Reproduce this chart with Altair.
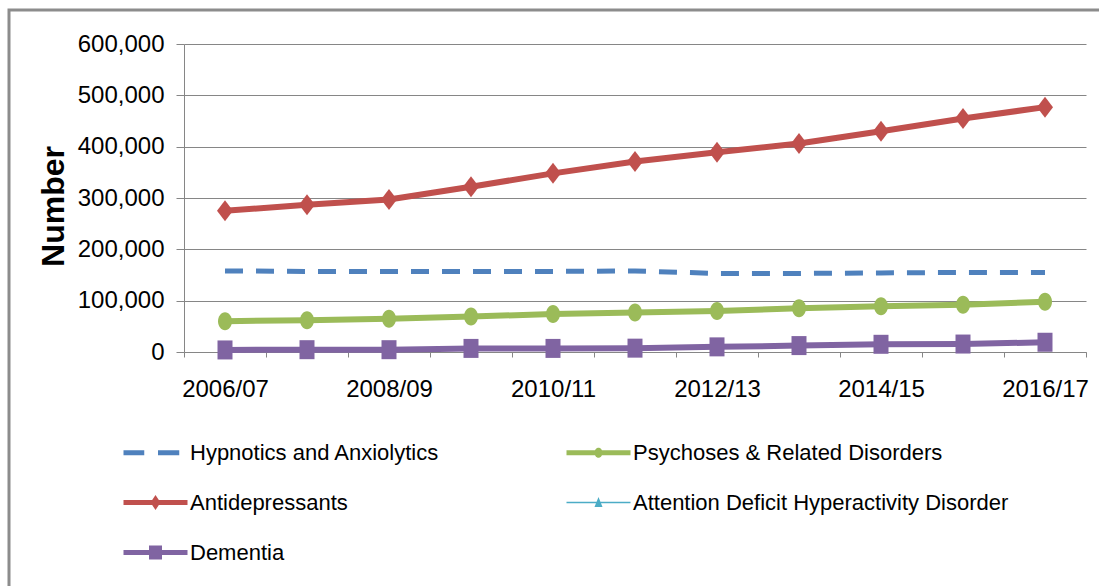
import altair as alt
import pandas as pd

# Financial years on the category axis
years = ["2006/07", "2007/08", "2008/09", "2009/10", "2010/11", "2011/12",
         "2012/13", "2013/14", "2014/15", "2015/16", "2016/17"]

# Number of patients per drug group
hypnotics = [158000, 157000, 157000, 157000, 157000, 158000,
             153000, 153000, 154000, 155000, 155000]
psychoses = [60000, 62000, 65000, 69000, 74000, 77000,
             80000, 85000, 89000, 92000, 98000]
antidepressants = [275000, 287000, 297000, 322000, 348000, 371000,
                   389000, 406000, 430000, 455000, 477000]
adhd = [5500, 6000, 6500, 7500, 8000, 8500,
        10500, 12000, 14000, 15000, 17500]
dementia = [4000, 4500, 4500, 7000, 7000, 7500,
            10000, 12500, 15000, 15500, 19000]

series_names = ["Hypnotics and Anxiolytics", "Psychoses & Related Disorders",
                "Antidepressants", "Attention Deficit Hyperactivity Disorder",
                "Dementia"]
series_values = [hypnotics, psychoses, antidepressants, adhd, dementia]
marker_kinds = ["none", "ellipse", "diamond", "triangle", "square"]

y_ticks = [0, 100000, 200000, 300000, 400000, 500000, 600000]

rows = []
for name, kind, vals in zip(series_names, marker_kinds, series_values):
    for yr, v in zip(years, vals):
        rows.append({"year": yr, "series": name, "marker": kind, "value": v})
df = pd.DataFrame(rows)

# Styling per series
colors = ["#4F81BD", "#9BBB59", "#C0504D", "#4BACC6", "#8064A2"]
line_widths = [5, 6, 6, 1.5, 6]
# Marker outlines (size 100 -> 1 unit = 5 px); the dashed series has none
marker_paths = [
    "M0,0",
    "M-1.4,0A1.4,1.8,0,1,1,1.4,0A1.4,1.8,0,1,1,-1.4,0Z",
    "M0,-2.1L1.6,0L0,2.1L-1.6,0Z",
    "M0,-0.8L0.7,0.6L-0.7,0.6Z",
    "M-1.5,-1.9L1.5,-1.9L1.5,1.9L-1.5,1.9Z",
]

# Legend glyphs: line segment plus marker (symbol size 625 -> 1 unit = 12.5 px)
bar = "M-2.56,-0.2L2.56,-0.2L2.56,0.2L-2.56,0.2Z"
legend_paths = [
    "M-2.56,-0.2L-0.9,-0.2L-0.9,0.2L-2.56,0.2Z"
    "M0.2,-0.2L1.9,-0.2L1.9,0.2L0.2,0.2Z",
    bar + "M-0.32,0A0.32,0.4,0,1,1,0.32,0A0.32,0.4,0,1,1,-0.32,0Z",
    bar + "M0,-0.6L0.4,0L0,0.6L-0.4,0Z",
    "M-2.56,-0.06L2.56,-0.06L2.56,0.06L-2.56,0.06Z"
    "M0,-0.45L0.32,0.35L-0.32,0.35Z",
    bar + "M-0.52,-0.56L0.52,-0.56L0.52,0.56L-0.52,0.56Z",
]
shape_expr = "'" + legend_paths[-1] + "'"
for name, path in reversed(list(zip(series_names[:-1], legend_paths[:-1]))):
    shape_expr = f"datum.value === '{name}' ? '{path}' : " + shape_expr

FONT = "Liberation Sans, Arial, sans-serif"
GREY = "#868686"

X = alt.X(
    "year:O", sort=years,
    scale=alt.Scale(type="band", domain=years, paddingInner=0, paddingOuter=0),
    axis=alt.Axis(
        title=None, labelAngle=0, tickBand="extent", grid=False,
        domainColor=GREY, tickColor=GREY, tickSize=5,
        labelFont=FONT, labelFontSize=24, labelColor="black", labelPadding=20,
        labelOverlap=False,
        labelExpr="toNumber(slice(datum.label, 0, 4)) % 2 == 0 ? datum.label : ''",
    ),
)
Y = alt.Y(
    "value:Q",
    scale=alt.Scale(domain=[0, 600000], nice=False),
    axis=alt.Axis(
        values=y_ticks, format=",d", title="Number",
        titleFont=FONT, titleFontSize=32, titleFontWeight="bold",
        titleColor="black", titleAngle=270, titleX=-131, titleY=162,
        titleAlign="center", titleBaseline="middle",
        grid=True, gridColor=GREY, gridWidth=1,
        domainColor=GREY, tickColor=GREY, tickSize=8,
        labelFont=FONT, labelFontSize=24, labelColor="black", labelPadding=12,
    ),
)

base = alt.Chart(df)

frame = alt.Chart(pd.DataFrame({"k": [0]})).mark_rect(
    fill="transparent", stroke="#8c8c8c", strokeWidth=3
).encode(x=alt.value(-175), x2=alt.value(940), y=alt.value(-34), y2=alt.value(570))

layers = [frame]
for i, (name, col) in enumerate(zip(series_names, colors)):
    sub = base.transform_filter(alt.datum.series == name)
    kw = dict(strokeWidth=line_widths[i], strokeJoin="round", color=col)
    if i == 0:
        kw["strokeDash"] = [18, 13]
        kw["strokeCap"] = "butt"
    layers.append(sub.mark_line(**kw).encode(x=X, y=Y))

points = base.mark_point(filled=True, size=100, opacity=1, strokeWidth=0).encode(
    x=X, y=Y,
    color=alt.Color(
        "series:N",
        scale=alt.Scale(domain=series_names, range=colors),
        legend=alt.Legend(
            title=None, orient="none", legendX=-41, legendY=396,
            direction="horizontal", columns=2, gridAlign="each",
            columnPadding=126, rowPadding=26,
            symbolSize=625, labelOffset=22, labelLimit=600,
            symbolType={"expr": shape_expr},
            symbolStrokeWidth=0, symbolOpacity=1,
            labelFont=FONT, labelFontSize=22, labelColor="black",
        ),
    ),
    shape=alt.Shape("marker:N",
                    scale=alt.Scale(domain=marker_kinds, range=marker_paths),
                    legend=None),
)
layers.append(points)

chart = (
    alt.layer(*layers)
    .properties(
        width=902, height=308,
        autosize=alt.AutoSizeParams(type="none"),
        padding={"left": 184, "top": 44, "right": 13, "bottom": 234},
    )
    .configure(background="white")
    .configure_view(strokeWidth=0)
)

chart.save("out.html", embed_options={"renderer": "svg", "actions": False})
